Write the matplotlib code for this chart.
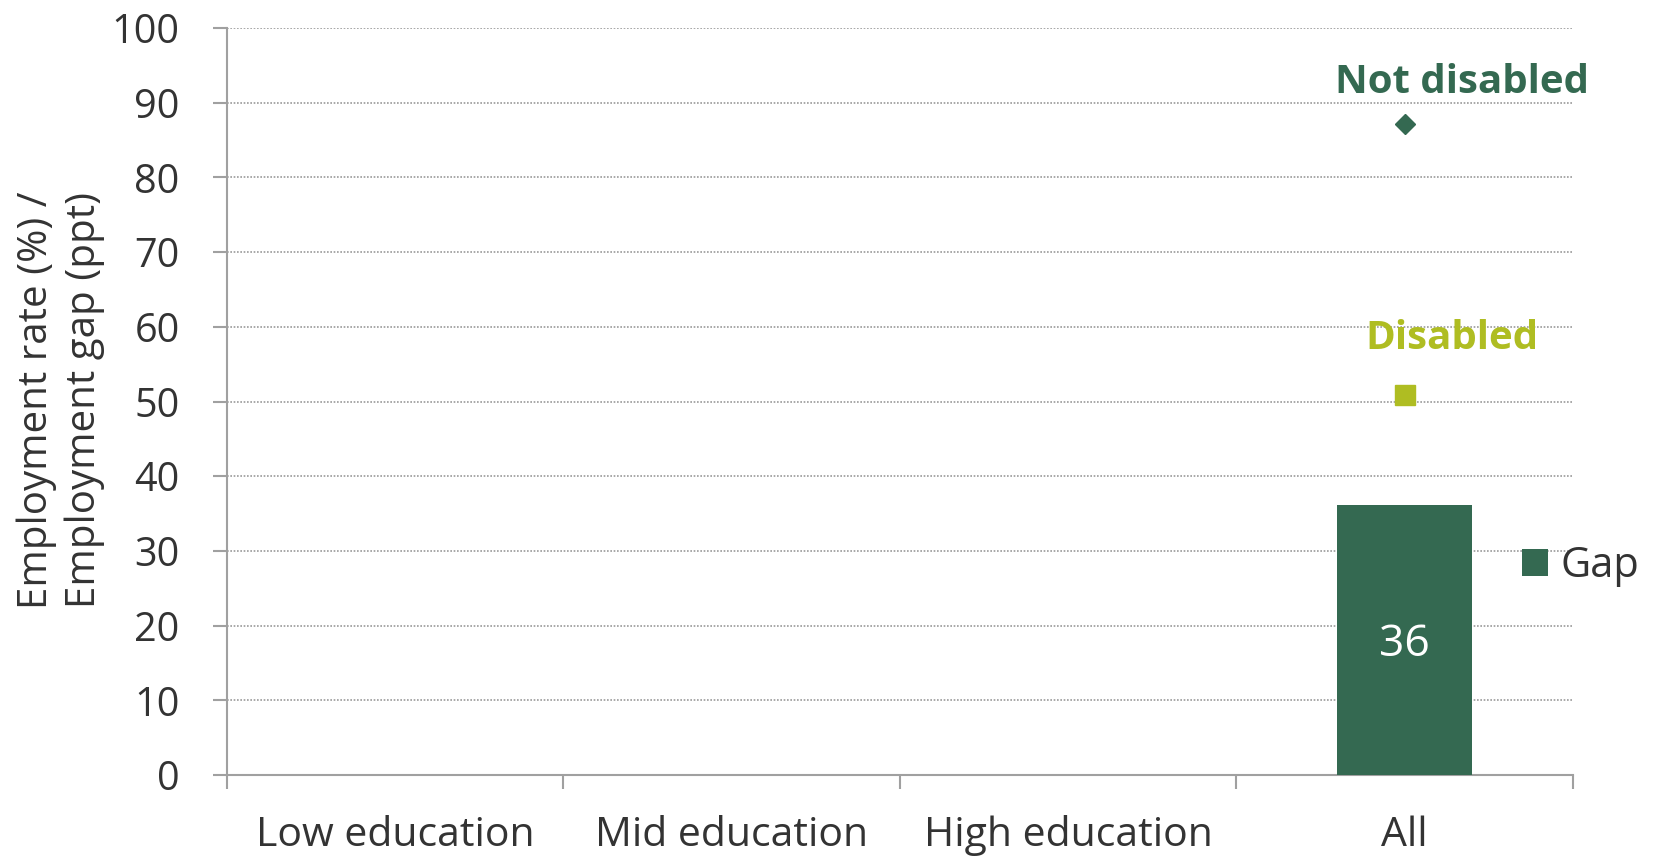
import matplotlib.pyplot as plt

plt.rcParams['font.family'] = ['Open Sans', 'DejaVu Sans']

# data
categories = ['Low education', 'Mid education', 'High education', 'All']
not_disabled = [None, None, None, 87.1]
disabled = [None, None, None, 50.9]
gap = [0, 0, 0, 36.2]
gap_labels = ['', '', '', '36']

dark_green = '#346951'
olive = '#AFBD22'
text_col = '#333333'
axis_col = '#a0a0a0'

fig = plt.figure(figsize=(16.53, 8.56), dpi=100)
ax = fig.add_axes([0.1373, 0.0946, 0.8143, 0.8727])

xs = list(range(len(categories)))

# gap bars
bars = ax.bar(xs, gap, width=0.40, color=dark_green, zorder=3, label='Gap')
for x, g, lab in zip(xs, gap, gap_labels):
    if lab:
        ax.text(x, g / 2 - 0.6, lab, ha='center', va='center', color='white', fontsize=32, zorder=4)

# markers for employment rates
for x, v in zip(xs, not_disabled):
    if v is not None:
        ax.plot(x, v, marker='D', ms=10.5, color=dark_green, zorder=4, linestyle='none')
        ax.text(x + 0.17, v + 5.6, 'Not disabled', ha='center', va='center',
                color=dark_green, fontsize=29, fontweight='bold')
for x, v in zip(xs, disabled):
    if v is not None:
        ax.plot(x, v, marker='s', ms=14.5, color=olive, zorder=4, linestyle='none')
        ax.text(x + 0.14, v + 7.6, 'Disabled', ha='center', va='center',
                color=olive, fontsize=29, fontweight='bold')

ax.set_xlim(-0.5, len(categories) - 0.5)
ax.set_ylim(0, 100)
ax.set_yticks(range(0, 101, 10))
ax.tick_params(axis='y', labelsize=28.5, colors=axis_col, labelcolor=text_col,
               length=10, width=1.5, pad=24)

# x ticks at category boundaries, labels at centres
ax.set_xticks([i - 0.5 for i in range(len(categories) + 1)])
ax.set_xticklabels([])
ax.set_xticks(xs, minor=True)
ax.set_xticklabels(categories, minor=True)
ax.tick_params(axis='x', which='major', colors=axis_col, length=10, width=1.5)
ax.tick_params(axis='x', which='minor', length=0, labelsize=29.5, labelcolor=text_col, pad=29)

for side in ['top', 'right']:
    ax.spines[side].set_visible(False)
for side in ['left', 'bottom']:
    ax.spines[side].set_color(axis_col)
    ax.spines[side].set_linewidth(1.5)

ax.yaxis.grid(True, linestyle=(0, (1, 1)), color='#999999', linewidth=1.2, zorder=0)
ax.set_axisbelow(True)

fig.text(0.037, 0.533, 'Employment rate (%) /\nEmployment gap (ppt)', rotation=90,
         ha='center', va='center', fontsize=29, color=text_col, linespacing=1.25)

leg = fig.legend(handles=[bars], labels=['Gap'], loc='center left',
                 bbox_to_anchor=(0.921, 0.339), frameon=False, fontsize=30,
                 handlelength=0.62, handleheight=0.62, handletextpad=0.3,
                 borderpad=0, borderaxespad=0)
for t in leg.get_texts():
    t.set_color(text_col)

fig.savefig('out.png', dpi=100)
